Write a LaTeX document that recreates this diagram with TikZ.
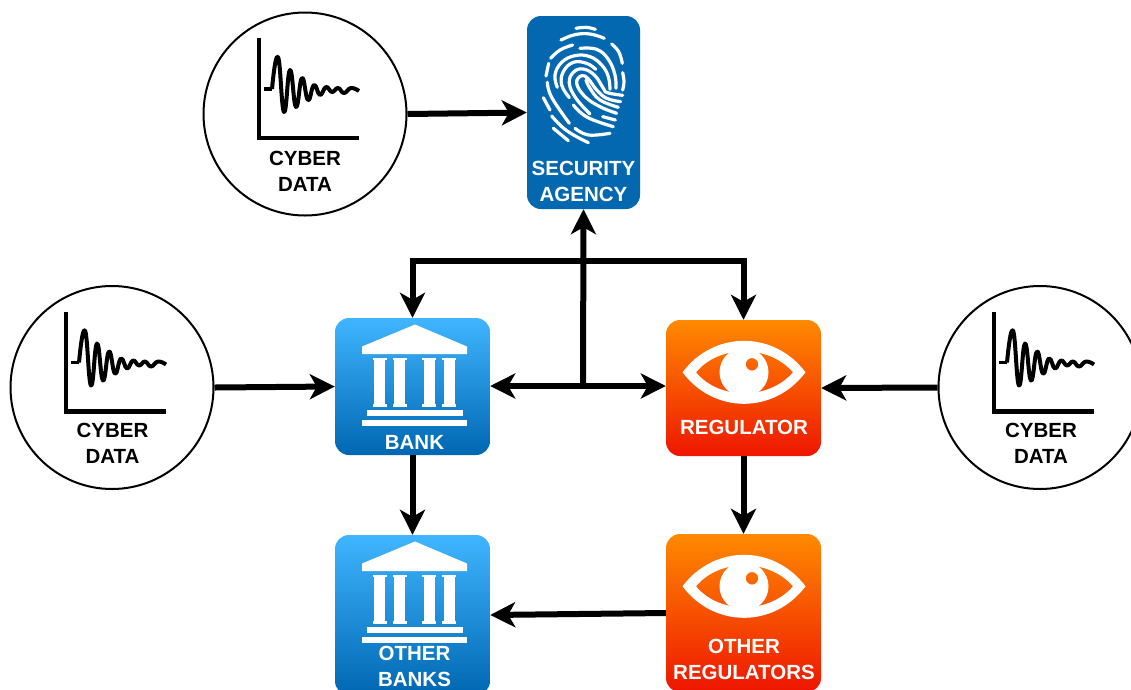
\documentclass[tikz,border=0pt]{standalone}
\usepackage{fontspec}
\setmainfont{Liberation Sans}
\usetikzlibrary{arrows.meta}
\newcommand{\rdg}[1]{\draw[ridge] plot[smooth,tension=0.7] coordinates {#1};}
\tikzset{
  arrowline/.style={line width=6pt,draw=black,-{Stealth[length=25pt,width=25pt,inset=7pt]}},
  datacircle/.style={circle,draw=black,line width=2pt,fill=white,minimum size=203pt,inner sep=0pt},
  tile/.style={rectangle,rounded corners=14pt,inner sep=0pt,draw=none},
  banktile/.style={tile,top color=bankT,bottom color=bankB,minimum width=155pt},
  regtile/.style={tile,top color=regT,bottom color=regB,minimum width=155pt},
  secbox/.style={tile,fill=secB,minimum width=113pt,minimum height=193pt},
  caption/.style={text=white,font=\fontsize{20.5}{26}\selectfont\bfseries,align=center,inner sep=0pt},
  datacaption/.style={caption,text=black},
  ridge/.style={draw=white,line width=3.2pt,line cap=round},
  chart/.pic={
    \draw[line width=4.5pt,line cap=butt] (-46,-76) -- (-46,24) -- (54,24);
    \draw[line width=3.2pt] (-41,-25) -- (-33,-25);
    \draw[line width=4pt,line join=round] plot[smooth,tension=0.8] coordinates {(-33,-25) (-27,-57) (-21,-2) (-15,-44) (-9,-7) (-3,-36) (3,-14) (9,-29) (15,-19) (21,-27) (27,-22) (33,-26) (39,-21) (46,-26) (54,-23)};
  },
  temple/.pic={
    \fill[white] (-53,-40) -- (0,-62) -- (52,-40) -- (52,-32.5) -- (-53,-32.5) -- cycle;
    \foreach \cx in {-35.5,-15.5,14,34}{
      \fill[white] (\cx-5.5,-28.5) rectangle (\cx+5.5,20);
      \fill[white] (\cx-7,-29) rectangle (\cx+7,-26.5);
      \fill[white] (\cx-7,17.5) rectangle (\cx+7,20);
    }
    \fill[white] (-48,23.5) rectangle (48,29.5);
    \fill[white] (-53,33) rectangle (52,39.5);
  },
  eyeicon/.pic={
    \fill[white,even odd rule]
      (-61.5,0) .. controls (-30,-42) and (30,-42) .. (61.5,0) .. controls (30,42) and (-30,42) .. (-61.5,0) -- cycle
      (-48,0) .. controls (-25,-28) and (25,-28) .. (49,0) .. controls (25,28) and (-25,28) .. (-48,0) -- cycle;
    \fill[white,even odd rule] (0,0) circle[radius=24.5] (8,-8) circle[radius=6.3];
  }
}
\definecolor{bankT}{HTML}{40B5FF}
\definecolor{bankB}{HTML}{0067B2}
\definecolor{regT}{HTML}{FF8A00}
\definecolor{regB}{HTML}{EE1600}
\definecolor{secB}{HTML}{0468B1}
\begin{document}
\begin{tikzpicture}[x=1pt,y=-1pt]
\useasboundingbox (0,0) rectangle (1131,689);
\clip (0,0) rectangle (1131,689);
% tiles
\node[secbox] (sec) at (583.5,112.5) {};
\node[banktile,minimum height=137pt] (bank) at (412.5,386.5) {};
\node[regtile,minimum height=136pt] (reg) at (743.5,388) {};
\node[banktile,minimum height=160pt] (obank) at (412.5,615) {};
\node[regtile,minimum height=158pt] (oreg) at (743.5,613) {};
% data circles
\node[datacircle] (cybA) at (305,114) {};
\node[datacircle] (cybB) at (112,387.5) {};
\node[datacircle] (cybC) at (1040,387.5) {};
\pic at (305,114) {chart};
\pic at (112,387.5) {chart};
\pic at (1040,387.5) {chart};
\node[datacaption] (capA) at (305,171) {CYBER\\DATA};
\node[datacaption] (capB) at (112.5,443.5) {CYBER\\DATA};
\node[datacaption] (capC) at (1041,443.5) {CYBER\\DATA};
% icons
\pic at (415,386.5) {temple};
\pic at (415,603.5) {temple};
\pic at (744,372.3) {eyeicon};
\pic at (744,586.3) {eyeicon};
\begin{scope}[shift={(500,0)},x=0.3333pt,y=-0.3333pt]
  \rdg{(228,85) (258,82) (286,88)}
  \rdg{(183,120) (225,104) (270,102) (313,115)}
  \rdg{(335,132) (356,155) (367,190)}
  \rdg{(152,175) (180,150) (218,135)}
  \rdg{(240,145) (290,148) (325,178) (345,225) (348,265)}
  \rdg{(368,218) (372,245) (368,270)}
  \rdg{(146,190) (138,228)}
  \rdg{(172,262) (165,225) (185,187) (225,167) (270,170) (305,195) (325,230) (330,268)}
  \rdg{(208,293) (185,255) (190,215) (220,187) (260,190) (287,208)}
  \rdg{(270,342) (228,295) (208,250) (220,217) (250,207) (285,227) (310,265) (322,278) (368,286)}
  \rdg{(350,340) (300,320) (255,290) (230,250) (245,227) (265,237) (290,270) (320,295) (362,305)}
  \rdg{(258,240) (270,265) (300,300) (355,322)}
  \rdg{(308,350) (346,360)}
  \rdg{(142,247) (155,292) (208,370)}
  \rdg{(220,315) (262,352) (340,380)}
  \rdg{(130,293) (150,330)}
  \rdg{(155,348) (200,392) (265,428)}
  \rdg{(160,385) (205,422)}
  \rdg{(225,385) (265,405) (330,400)}
\end{scope}
% captions on tiles
\node[caption] (capSec) at (583.5,181) {SECURITY\\AGENCY};
\node[caption] (capBank) at (414.5,442) {BANK};
\node[caption] (capReg) at (744,427) {REGULATOR};
\node[caption] (capOB) at (414.5,666.5) {OTHER\\BANKS};
\node[caption] (capOR) at (744,659) {OTHER\\REGULATORS};
% junctions
\coordinate (hub) at (583,386);
\coordinate (split) at (583,261);
% connectors
\draw[arrowline] (cybA.east) -- (sec.west);
\draw[arrowline] (cybB.east) -- (bank.west);
\draw[arrowline] (cybC.west) -- (reg.east);
\draw[arrowline] (hub) -- (sec.south);
\draw[arrowline] (hub) -- (bank.east |- hub);
\draw[arrowline] (hub) -- (reg.west |- hub);
\draw[arrowline] (split) -| (bank.north);
\draw[arrowline] (split) -| (reg.north);
\draw[arrowline] (bank.south) -- (obank.north);
\draw[arrowline] (reg.south) -- (oreg.north);
\draw[arrowline] (oreg.west) -- (obank.east);
\end{tikzpicture}
\end{document}
